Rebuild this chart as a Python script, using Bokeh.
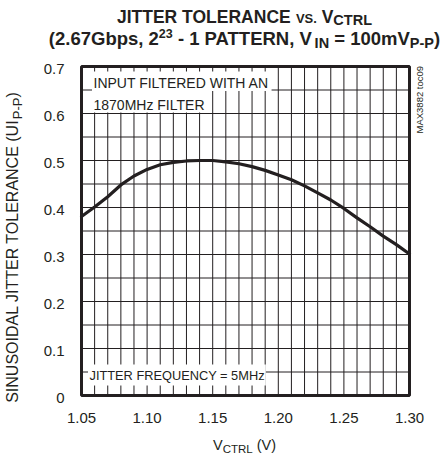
import math
import numpy as np
from bokeh.plotting import figure
from bokeh.models import Label, Range1d
from bokeh.core.properties import value
from bokeh.embed import file_html
from bokeh.resources import INLINE

# ---------------- data ----------------
vctrl = [1.05, 1.06, 1.07, 1.08, 1.09, 1.10, 1.11, 1.12, 1.13, 1.14, 1.15, 1.16, 1.17,
         1.18, 1.19, 1.20, 1.21, 1.22, 1.23, 1.24, 1.25, 1.26, 1.27, 1.28, 1.29, 1.30]
tolerance = [0.381, 0.401, 0.423, 0.448, 0.467, 0.481, 0.491, 0.496, 0.499, 0.500, 0.500,
             0.497, 0.493, 0.487, 0.479, 0.469, 0.459, 0.446, 0.431, 0.416, 0.398, 0.378,
             0.359, 0.339, 0.321, 0.301]
x_ticks = [1.05, 1.10, 1.15, 1.20, 1.25, 1.30]
x_tick_labels = ["1.05", "1.10", "1.15", "1.20", "1.25", "1.30"]
y_ticks = [0, 0.1, 0.2, 0.3, 0.4, 0.5, 0.6, 0.7]
y_tick_labels = ["0", "0.1", "0.2", "0.3", "0.4", "0.5", "0.6", "0.7"]
x_minor_step = 0.01
y_minor_step = 0.05

title1 = ["JITTER TOLERANCE ", "VS.", " V", "CTRL"]
title2 = ["(2.67Gbps, 2", "23", " - 1 PATTERN, V", "IN", " = 100mV", "P-P", ")"]
xlabel = ["V", "CTRL", " (V)"]
ylabel = ["SINUSOIDAL JITTER TOLERANCE (UI", "P-P", ")"]
note1 = "INPUT FILTERED WITH AN"
note2 = "1870MHz FILTER"
note3 = "JITTER FREQUENCY = 5MHz"
code_text = "MAX3882 toc09"

# ---------------- layout ----------------
FONT = "Liberation Sans"
INK = "#231f20"
W, H = 441, 457
FX0, FX1, FY0, FY1 = 81.0, 409.0, 66.0, 395.0   # plot box in canvas px
XMIN, XMAX, YMIN, YMAX = 1.05, 1.30, 0.0, 0.7
KX = (FX1 - FX0) / (XMAX - XMIN)
KY = (FY1 - FY0) / (YMAX - YMIN)
X_LO = XMIN - FX0 / KX
Y_HI = YMAX + FY0 / KY
BASE_FIX = 0.38   # renderer places the alphabetic baseline this many em lower

def dx(px):
    return X_LO + px / KX

def dy(py):
    return Y_HI - py / KY

REG = {' ': 278, '(': 333, ')': 333, ',': 278, '-': 333, '.': 278, '=': 584,
       'A': 667, 'B': 667, 'C': 722, 'D': 722, 'E': 667, 'F': 611, 'G': 778, 'H': 722,
       'I': 278, 'J': 500, 'K': 667, 'L': 556, 'M': 833, 'N': 722, 'O': 778, 'P': 667,
       'Q': 778, 'R': 722, 'S': 667, 'T': 611, 'U': 722, 'V': 667, 'W': 944, 'X': 667,
       'Y': 667, 'Z': 611, 'b': 556, 'c': 500, 'm': 833, 'o': 556, 'p': 556, 's': 500,
       't': 278, 'z': 500}
BLD = {' ': 278, '(': 333, ')': 333, ',': 278, '-': 333, '.': 278, '=': 584,
       'A': 722, 'B': 722, 'C': 722, 'D': 722, 'E': 667, 'F': 611, 'G': 778, 'H': 722,
       'I': 278, 'J': 556, 'K': 722, 'L': 611, 'M': 833, 'N': 722, 'O': 778, 'P': 667,
       'Q': 778, 'R': 722, 'S': 667, 'T': 611, 'U': 722, 'V': 667, 'W': 944, 'X': 667,
       'Y': 667, 'Z': 611, 'b': 611, 'c': 556, 'm': 889, 'o': 611, 'p': 611, 's': 556,
       't': 333, 'z': 500}
for d in "0123456789":
    REG[d] = 556
    BLD[d] = 556

def tw(text, size, bold=False):
    tab = BLD if bold else REG
    return sum(tab.get(c, 556) for c in text) / 1000.0 * size

p = figure(width=W, height=H, min_border=0,
           x_range=Range1d(X_LO, X_LO + W / KX), y_range=Range1d(Y_HI - H / KY, Y_HI),
           output_backend="svg", toolbar_location=None,
           x_axis_location=None, y_axis_location=None)
p.background_fill_color = "white"
p.border_fill_color = "white"
p.outline_line_color = None
p.xgrid.visible = False
p.ygrid.visible = False

# grid lines at every minor division
x_minor = list(np.round(np.arange(XMIN, XMAX + 1e-9, x_minor_step), 2))
y_minor = list(np.round(np.arange(YMIN, YMAX + 1e-9, y_minor_step), 2))
p.segment(x0=x_minor, x1=x_minor, y0=[YMIN] * len(x_minor), y1=[YMAX] * len(x_minor),
          line_color=INK, line_width=1)
p.segment(x0=[XMIN] * len(y_minor), x1=[XMAX] * len(y_minor), y0=y_minor, y1=y_minor,
          line_color=INK, line_width=1)

# note texts and their white boxes
N1 = (93, 88, 14)
N2 = (93, 110, 14)
N3 = (89, 380, 12.8)
boxes = [(91.5, N1[0] + tw(note1, N1[2]) + 1.5, 71.0, 90.5),
         (91.5, N2[0] + tw(note2, N2[2]) + 2.0, 90.0, 112.0),
         (87.5, N3[0] + tw(note3, N3[2]) + 1.0, 364.0, 385.0)]
p.quad(left=[dx(b[0]) for b in boxes], right=[dx(b[1]) for b in boxes],
       top=[dy(b[2]) for b in boxes], bottom=[dy(b[3]) for b in boxes],
       fill_color="white", line_color=None)

# curve
p.line(vctrl, tolerance, line_color=INK, line_width=3.2, line_join="round", line_cap="round")

# plot frame
p.quad(left=[XMIN], right=[XMAX], bottom=[YMIN], top=[YMAX], fill_color=None,
       line_color=INK, line_width=3)

# tick labels
TICK_SIZE = 15
fix = BASE_FIX * TICK_SIZE
p.text(x=x_ticks, y=[dy(423.5 - fix)] * len(x_ticks), text=x_tick_labels,
       text_font=value(FONT), text_font_size=value(f"{TICK_SIZE}px"), text_color=INK,
       text_align="center", text_baseline="alphabetic")
p.text(x=[dx(64)] * len(y_ticks), y=[t - (8.5 - fix) / KY for t in y_ticks], text=y_tick_labels,
       text_font=value(FONT), text_font_size=value(f"{TICK_SIZE}px"), text_color=INK,
       text_align="right", text_baseline="alphabetic")

def lab(text, px, py, size, bold=False, vertical=False):
    if vertical:
        px -= BASE_FIX * size
    else:
        py -= BASE_FIX * size
    p.add_layout(Label(x=dx(px), y=dy(py), text=text, text_font=FONT,
                       text_font_size=f"{size}px",
                       text_font_style="bold" if bold else "normal",
                       text_color=INK, text_align="left", text_baseline="alphabetic",
                       angle=math.pi / 2 if vertical else 0.0))

def split_space(t):
    lead = len(t) - len(t.lstrip(" "))
    trail = len(t) - len(t.rstrip(" "))
    return lead, t.strip(" "), trail

def rich_h(pieces, cx, base, bold):
    total = sum(tw(t, s, bold) for t, s, _ in pieces)
    cur = cx - total / 2
    for t, s, up in pieces:
        lead, core, trail = split_space(t)
        cur += tw(" " * lead, s, bold)
        lab(core, cur, base - up, s, bold)
        cur += tw(core, s, bold) + tw(" " * trail, s, bold)

def rich_v(pieces, cy, base_x, bold):
    total = sum(tw(t, s, bold) for t, s, _ in pieces)
    cur = cy + total / 2
    for t, s, up in pieces:
        lead, core, trail = split_space(t)
        cur -= tw(" " * lead, s, bold)
        lab(core, base_x - up, cur, s, bold, vertical=True)
        cur -= tw(core, s, bold) + tw(" " * trail, s, bold)

rich_h(list(zip(title1, [17.5, 13, 17.5, 14.5], [0, 0, 0, -2.5])), 244, 23, True)
rich_h(list(zip(title2, [18.5, 12.5, 18.5, 14.5, 18.5, 14.5, 18.5], [0, 7, 0, -3, 0, -3, 0])),
       244, 45, True)
rich_h(list(zip(xlabel, [14.5, 11.5, 14.5], [0, -2.5, 0])), 244, 450.5, False)
rich_v(list(zip(ylabel, [16, 13, 16], [0, -3, 0])), 247, 18.5, False)

lab(note1, N1[0], N1[1], N1[2])
lab(note2, N2[0], N2[1], N2[2])
lab(note3, N3[0], N3[1], N3[2])
lab(code_text, 423, 133, 9.5, vertical=True)

open("out.html", "w").write(file_html(p, INLINE))
